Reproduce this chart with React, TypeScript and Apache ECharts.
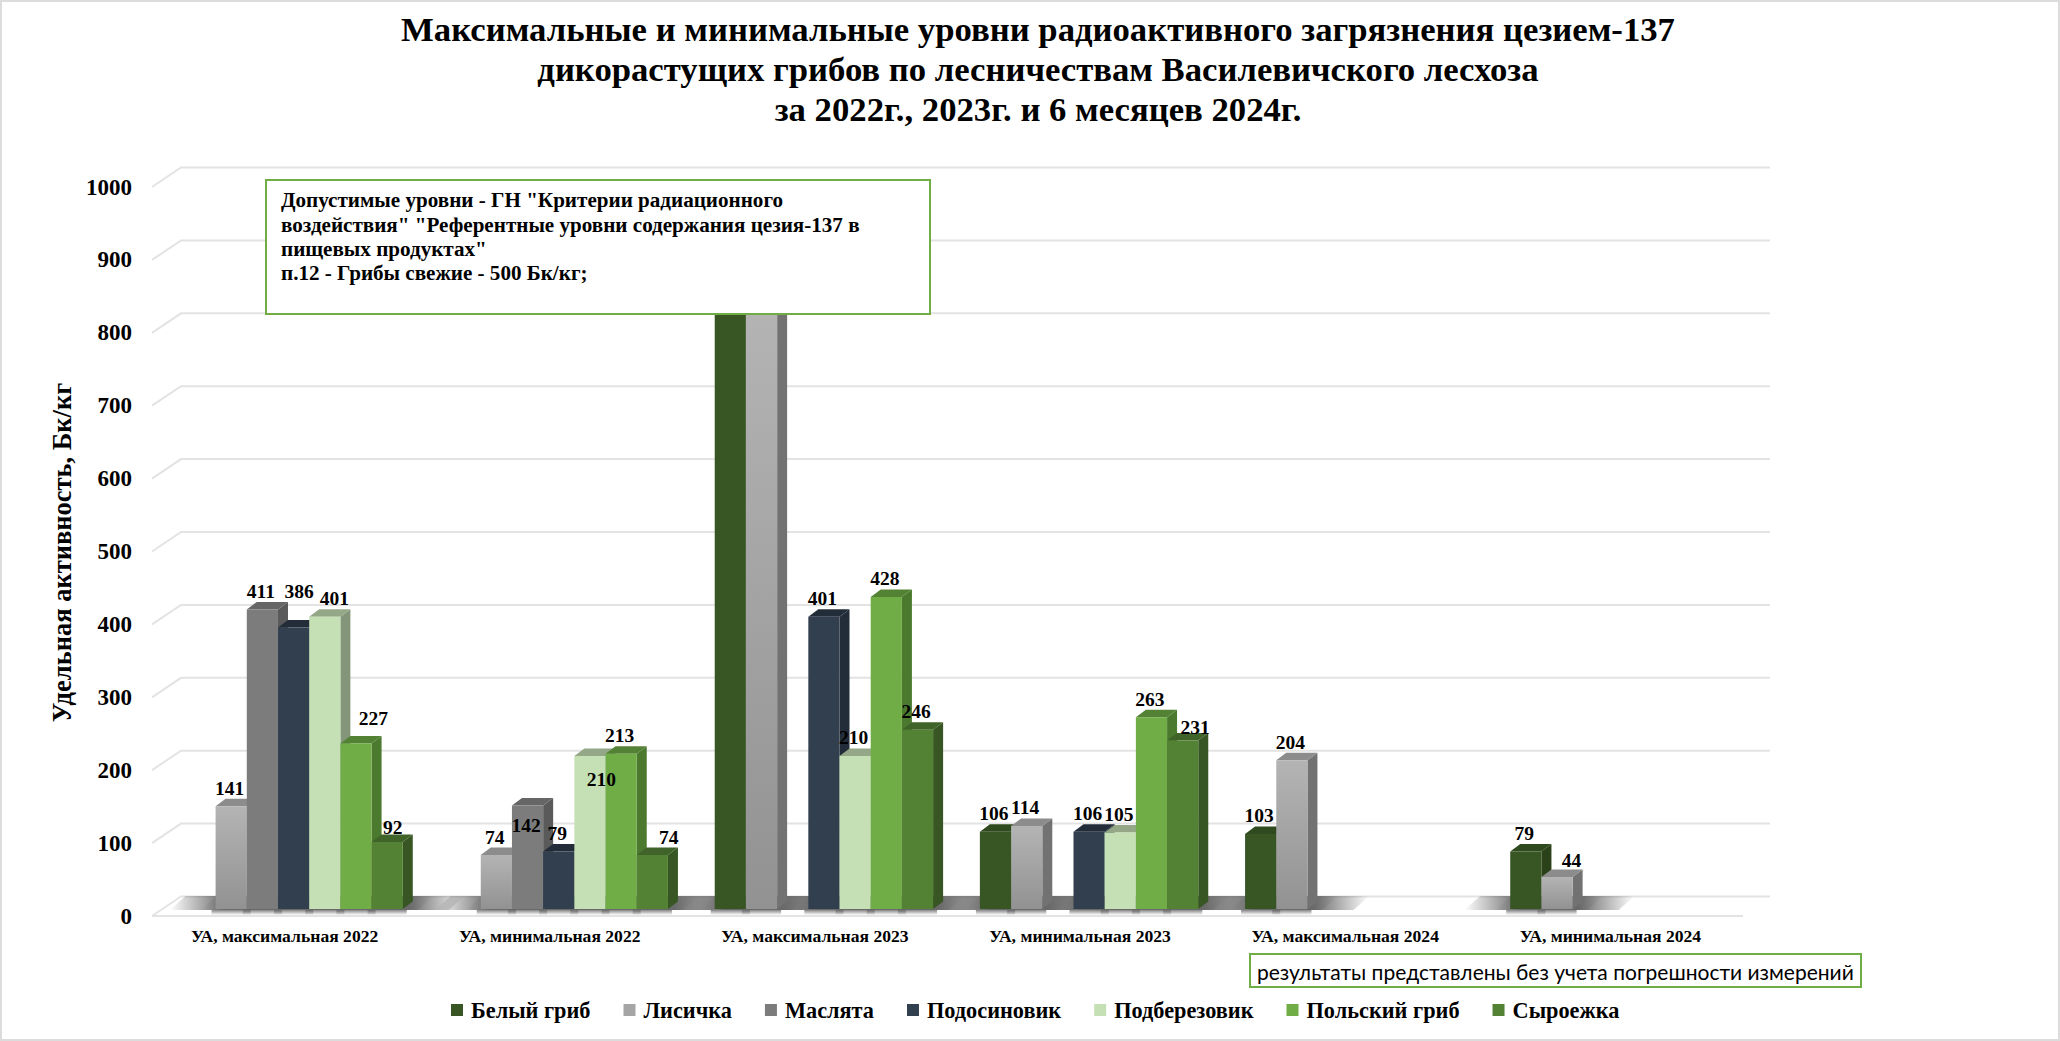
import React, { useEffect, useRef } from "react";
import * as echarts from "echarts";

const categories = [
  "УА, максимальная 2022",
  "УА, минимальная 2022",
  "УА, максимальная 2023",
  "УА, минимальная 2023",
  "УА, максимальная 2024",
  "УА, минимальная 2024",
];
const beliy = [null, null, 850, 106, 103, 79];
const lisichka = [141, 74, 830, 114, 204, 44];
const maslyata = [411, 142, null, null, null, null];
const podosinovik = [386, 79, 401, 106, null, null];
const podberezovik = [401, 210, 210, 105, null, null];
const polskiy = [227, 213, 428, 263, null, null];
const syroezhka = [92, 74, 246, 231, null, null];
const yTicks = [0, 100, 200, 300, 400, 500, 600, 700, 800, 900, 1000];

const titleText =
  "Максимальные и минимальные уровни радиоактивного загрязнения цезием-137\nдикорастущих грибов по лесничествам Василевичского лесхоза\nза 2022г., 2023г. и 6 месяцев 2024г.";
const yName = "Удельная активность, Бк/кг";
const noteText =
  'Допустимые уровни - ГН "Критерии радиационного\nвоздействия" "Референтные уровни содержания цезия-137 в\nпищевых продуктах"\nп.12 - Грибы свежие - 500 Бк/кг;';
const footText = "результаты представлены без учета погрешности измерений";

const SERIF = "Liberation Serif";
const lisGrad = new echarts.graphic.LinearGradient(0, 0, 0, 1, [
  { offset: 0, color: "#b4b4b4" },
  { offset: 1, color: "#929292" },
]);

const mushrooms = [
  { name: "Белый гриб", values: beliy, front: "#375623", top: "#2f4a1e", side: "#2a4119" },
  { name: "Лисичка", values: lisichka, front: "#a5a5a5", top: "#8c8c8c", side: "#727272", grad: lisGrad },
  { name: "Маслята", values: maslyata, front: "#7c7c7c", top: "#666666", side: "#5a5a5a" },
  { name: "Подосиновик", values: podosinovik, front: "#323f4f", top: "#232d3a", side: "#232d3a" },
  { name: "Подберезовик", values: podberezovik, front: "#c5e0b4", top: "#94a888", side: "#83967a" },
  { name: "Польский гриб", values: polskiy, front: "#70ad47", top: "#548235", side: "#4b7a2f" },
  { name: "Сыроежка", values: syroezhka, front: "#548235", top: "#3f6328", side: "#375623" },
];

// manual label nudges "series:category" -> [dx, dy]
const labelNudges: Record<string, [number, number]> = {
  "3:0": [7, -18],
  "4:0": [11, 0],
  "5:0": [19, -7],
  "6:0": [7, 4],
  "2:1": [0, 38],
  "4:1": [13, 42],
  "6:1": [18, 0],
  "6:3": [14, 5],
  "1:5": [16, 2],
};

const BARS_IN_BAND = 8.5;
const DX = 10;
const DY = 7.5;

function barRect(api: any, seriesIdx: number) {
  const cat = api.value(0);
  const val = api.value(1);
  const [cx, y0] = api.coord([cat, 0]);
  const [, yv] = api.coord([cat, val]);
  const band = api.size([1, 0])[0];
  const w = band / BARS_IN_BAND;
  const x = cx - 3.5 * w + seriesIdx * w;
  return { x, y0, yv, w, val };
}

function barSeries(m: any, idx: number) {
  return {
    type: "custom",
    name: m.name,
    z: 3,
    itemStyle: { color: m.front },
    silent: true,
    clip: false,
    encode: { x: 0, y: 1 },
    data: m.values
      .map((v: number | null, i: number) => [categories[i], v])
      .filter((d: any[]) => d[1] !== null),
    renderItem: (_p: any, api: any) => {
      const { x, y0, yv, w, val } = barRect(api, idx);
      const r = x + w;
      const children: any[] = [
        {
          type: "polygon",
          shape: { points: [[r, yv], [r + DX, yv - DY], [r + DX, y0 - DY], [r, y0]] },
          style: { fill: m.side },
        },
        {
          type: "polygon",
          shape: { points: [[x, yv], [x + DX, yv - DY], [r + DX, yv - DY], [r, yv]] },
          style: { fill: m.top },
        },
        {
          type: "rect",
          shape: { x, y: yv, width: w, height: y0 - yv },
          style: { fill: m.grad || m.front },
        },
      ];
      if (val < 800) {
        const key = idx + ":" + api.value(0);
        const [dx, dy] = labelNudges[key] || [0, 0];
        children.push({
          type: "text",
          z2: 100,
          style: {
            x: x + w / 2 - 1.5 + dx,
            y: yv - 18 + dy,
            text: String(val),
            fill: "#000",
            font: `bold 19.5px "${SERIF}"`,
            textAlign: "center",
            textVerticalAlign: "middle",
          },
        });
      }
      return { type: "group", children };
    },
  };
}

const shadowData: any[] = [];
mushrooms.forEach((m, s) =>
  m.values.forEach((v, c) => {
    if (v !== null) shadowData.push([categories[c], 0, s]);
  })
);

const shadowSeries = {
  type: "custom",
  name: "floor",
  z: 2,
  silent: true,
  clip: false,
  encode: { x: 0, y: 1 },
  data: shadowData,
  renderItem: (_p: any, api: any) => {
    const s = api.value(2);
    const { x, y0, w } = barRect(api, s);
    const fade = 46;
    const total = w + 2 * fade + 10;
    const a = fade / total;
    const grad = new echarts.graphic.LinearGradient(0, 0, 1, 0, [
      { offset: 0, color: "rgba(105,105,105,0)" },
      { offset: a + 0.06, color: "rgba(105,105,105,1)" },
      { offset: 1 - a - 0.06, color: "rgba(105,105,105,1)" },
      { offset: 1, color: "rgba(105,105,105,0)" },
    ]);
    const low = new echarts.graphic.LinearGradient(0, 0, 0, 1, [
      { offset: 0, color: "rgba(105,105,105,0.8)" },
      { offset: 1, color: "rgba(105,105,105,0)" },
    ]);
    return {
      type: "group",
      children: [
        {
          type: "polygon",
          shape: {
            points: [
              [x - fade, y0 + 1],
              [x + w + fade, y0 + 1],
              [x + w + fade + 16, y0 - 13],
              [x - fade + 16, y0 - 13],
            ],
          },
          style: { fill: grad },
        },
        {
          type: "rect",
          shape: { x: x - 4, y: y0 + 1, width: w + 8, height: 5 },
          style: { fill: low },
        },
      ],
    };
  },
};

const gridSeries = {
  type: "custom",
  name: "walls",
  z: 1,
  silent: true,
  clip: false,
  encode: { x: 0, y: 1 },
  data: yTicks.map((v) => [categories[0], v]),
  renderItem: (p: any, api: any) => {
    const cs = p.coordSys;
    const [, y] = api.coord([api.value(0), api.value(1)]);
    const left = cs.x - 9;
    const back = cs.x + 20;
    const right = cs.x + cs.width + 18;
    const stroke = { stroke: "#e3e3e3", lineWidth: 2, fill: null };
    const children: any[] = [
      {
        type: "polyline",
        shape: { points: [[left, y + 7], [back, y - 12.5], [right, y - 12.5]] },
        style: stroke,
      },
    ];
    if (api.value(1) === 0) {
      children.push({
        type: "line",
        shape: { x1: left, y1: y + 7, x2: cs.x + cs.width - 9, y2: y + 7 },
        style: stroke,
      });
    }
    return { type: "group", children };
  },
};

const option: any = {
  animation: false,
  backgroundColor: "#ffffff",
  title: {
    text: titleText,
    left: 1033,
    top: 4,
    textAlign: "center",
    textStyle: {
      fontFamily: SERIF,
      fontWeight: "bold",
      fontSize: 34.7,
      lineHeight: 40,
      color: "#000",
    },
  },
  grid: { left: 161, right: 308, top: 180, bottom: 132, containLabel: false },
  legend: {
    data: mushrooms.map((m) => m.name),
    left: 446,
    top: 994,
    icon: "rect",
    itemWidth: 12,
    itemHeight: 12,
    itemGap: 33,
    selectedMode: false,
    textStyle: {
      fontFamily: SERIF,
      fontWeight: "bold",
      fontSize: 22.3,
      color: "#000",
      padding: [0, 0, 0, 3],
    },
  },
  xAxis: {
    type: "category",
    data: categories,
    axisLine: { show: false },
    axisTick: { show: false },
    splitLine: { show: false },
    axisLabel: {
      interval: 0,
      margin: 18,
      padding: [0, 18, 0, 0],
      fontFamily: SERIF,
      fontWeight: "bold",
      fontSize: 17.6,
      color: "#000",
    },
  },
  yAxis: {
    type: "value",
    min: 0,
    max: 1000,
    interval: 100,
    name: yName,
    nameLocation: "middle",
    nameGap: 74,
    nameTextStyle: {
      fontFamily: SERIF,
      fontWeight: "bold",
      fontSize: 26.5,
      color: "#000",
      padding: [0, 16, 0, 0],
    },
    axisLine: { show: false },
    axisTick: { show: false },
    splitLine: { show: false },
    axisLabel: {
      margin: 29,
      verticalAlign: "top",
      lineHeight: 14,
      formatter: (v: number) => String(v),
      fontFamily: SERIF,
      fontWeight: "bold",
      fontSize: 23,
      color: "#000",
    },
  },
  graphic: [
    {
      type: "rect",
      z: 0,
      silent: true,
      shape: { x: 1, y: 1, width: 2058, height: 1039 },
      style: { fill: "none", stroke: "#dcdcdc", lineWidth: 2 },
    },
    {
      type: "rect",
      z: 100,
      shape: { x: 266, y: 180, width: 664, height: 134 },
      style: { fill: "#ffffff", stroke: "#70ad47", lineWidth: 2 },
    },
    {
      type: "text",
      z: 101,
      x: 281,
      y: 188,
      style: {
        text: noteText,
        fill: "#000",
        font: `bold 21.1px "${SERIF}"`,
        lineHeight: 24.4,
        textVerticalAlign: "top",
      },
    },
    {
      type: "rect",
      z: 100,
      shape: { x: 1250, y: 954, width: 611, height: 33 },
      style: { fill: "#ffffff", stroke: "#70ad47", lineWidth: 2 },
    },
    {
      type: "text",
      z: 101,
      x: 1257,
      y: 971,
      style: {
        text: footText,
        fill: "#000",
        font: '21px "Lato"',
        textVerticalAlign: "middle",
      },
    },
  ],
  series: [gridSeries, shadowSeries, ...mushrooms.map((m, i) => barSeries(m, i))],
};

export default function App() {
  const ref = useRef<HTMLDivElement>(null);
  useEffect(() => {
    document.body.style.margin = "0";
    document.body.style.overflow = "hidden";
    const chart = echarts.init(ref.current!, undefined, { renderer: "svg" });
    chart.setOption(option);
    return () => chart.dispose();
  }, []);
  return <div ref={ref} style={{ width: 2060, height: 1041 }} />;
}
